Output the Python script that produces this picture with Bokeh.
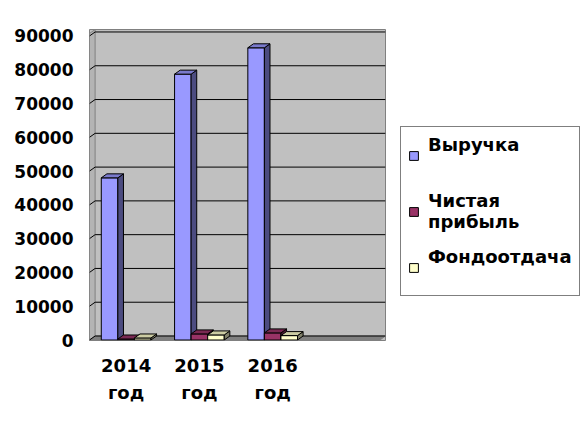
from bokeh.plotting import figure
from bokeh.models import Range1d, FixedTicker, LinearAxis, Legend, LegendItem, ColumnDataSource
from bokeh.embed import file_html
from bokeh.resources import INLINE

# ---- data ----
years = ["2014", "2015", "2016"]
year_word = ["год", "год", "год"]
series_names = ["Выручка", "Чистая\nприбыль", "Фондоотдача"]
revenue = [48000, 78700, 86500]
profit = [300, 1800, 2100]
fondo = [600, 1500, 1300]
y_ticks = [0, 10000, 20000, 30000, 40000, 50000, 60000, 70000, 80000, 90000]

values = [revenue, profit, fondo]
front_colors = ["#9999FF", "#993366", "#FFFFCC"]
top_colors = ["#7A7ACC", "#7A2952", "#CCCCA3"]
side_colors = ["#4C4C80", "#4C1933", "#80806A"]

FONT = "DejaVu Sans"
FS = "17px"
FS2 = "18px"

X0, X1 = 0.0, 4.04
Y0, Y1 = -148, 91918
FW, FH = 296, 311
PX = (X1 - X0) / FW
PY = (Y1 - Y0) / FH
DX, DY = 5.6 * PX, 4 * PY
W = 0.226

p = figure(frame_width=FW, frame_height=FH, x_range=Range1d(X0, X1), y_range=Range1d(Y0, Y1),
           output_backend="svg", toolbar_location=None,
           min_border_left=89, min_border_top=29, min_border_right=2, min_border_bottom=0)
p.background_fill_color = "#C0C0C0"
p.border_fill_color = "white"
p.outline_line_color = "#808080"
p.outline_line_width = 1

# walls
p.patch([X0, X0, X0 + DX, X0 + DX], [Y0, Y1 - DY, Y1, Y0 + DY],
        fill_color="#B4B4B4", line_color="#808080", line_width=1)
p.patch([X0, X1 - DX, X1, X0 + DX], [0, 0, DY, DY],
        fill_color="#808080", line_color="#808080", line_width=1)

# gridlines drawn on the back wall and slanting across the side wall
grid_src = ColumnDataSource(dict(
    xa=[X0 + DX] * len(y_ticks), xb=[X1] * len(y_ticks),
    xw=[X0] * len(y_ticks),
    y=[t + DY for t in y_ticks], yw=list(y_ticks)))
p.segment(x0="xa", y0="y", x1="xb", y1="y", source=grid_src, line_color="black", line_width=1)
p.segment(x0="xw", y0="yw", x1="xa", y1="y", source=grid_src, line_color="black", line_width=1)

legend_items = []
for j, vals in enumerate(values):
    xc = [i + 0.5 + (j - 1) * W for i in range(len(years))]
    l = [x - W / 2 for x in xc]
    r = [x + W / 2 for x in xc]
    src = ColumnDataSource(dict(l=l, r=r, b=[0] * len(vals), t=vals))
    front = p.quad(left="l", right="r", bottom="b", top="t", source=src,
                   fill_color=front_colors[j], line_color="black", line_width=1)
    side_xs = [[rr, rr + DX, rr + DX, rr] for rr in r]
    side_ys = [[0, DY, v + DY, v] for v in vals]
    p.patches(side_xs, side_ys, fill_color=side_colors[j], line_color="black", line_width=1)
    top_xs = [[ll, ll + DX, rr + DX, rr] for ll, rr in zip(l, r)]
    top_ys = [[v, v + DY, v + DY, v] for v in vals]
    p.patches(top_xs, top_ys, fill_color=top_colors[j], line_color="black", line_width=1)
    label = series_names[j] if "\n" in series_names[j] else series_names[j] + "\n "
    legend_items.append(LegendItem(label=label, renderers=[front]))

# y axis
p.yaxis.ticker = FixedTicker(ticks=y_ticks)
p.yaxis.axis_line_color = None
p.yaxis.major_tick_line_color = None
p.yaxis.minor_tick_line_color = None
p.yaxis.major_label_standoff = 10
p.yaxis.major_label_text_font = FONT
p.yaxis.major_label_text_font_style = "bold"
p.yaxis.major_label_text_font_size = FS
p.yaxis.major_label_text_color = "black"
p.ygrid.grid_line_color = None
p.xgrid.grid_line_color = None

# x axes (two lines)
xt = [i + 0.5 for i in range(len(years))]
ax1 = p.xaxis[0]
ax1.ticker = FixedTicker(ticks=xt)
ax1.major_label_overrides = {t: y for t, y in zip(xt, years)}
ax2 = LinearAxis(ticker=FixedTicker(ticks=xt),
                 major_label_overrides={t: w for t, w in zip(xt, year_word)})
p.add_layout(ax2, "below")
for ax in (ax1, ax2):
    ax.axis_line_color = None
    ax.major_tick_line_color = None
    ax.minor_tick_line_color = None
    ax.major_label_text_font = FONT
    ax.major_label_text_font_style = "bold"
    ax.major_label_text_font_size = FS2
    ax.major_label_text_color = "black"
ax1.major_label_standoff = 12
ax2.major_label_standoff = 1

legend = Legend(items=legend_items, location=(15, 44), margin=0, padding=7, spacing=14,
                glyph_width=11, glyph_height=11, label_standoff=9,
                label_text_font=FONT, label_text_font_style="bold", label_text_font_size=FS2,
                label_text_color="black",
                border_line_color="black", border_line_width=1, background_fill_color="white")
p.add_layout(legend, "right")

open("out.html", "w").write(file_html(p, INLINE))
